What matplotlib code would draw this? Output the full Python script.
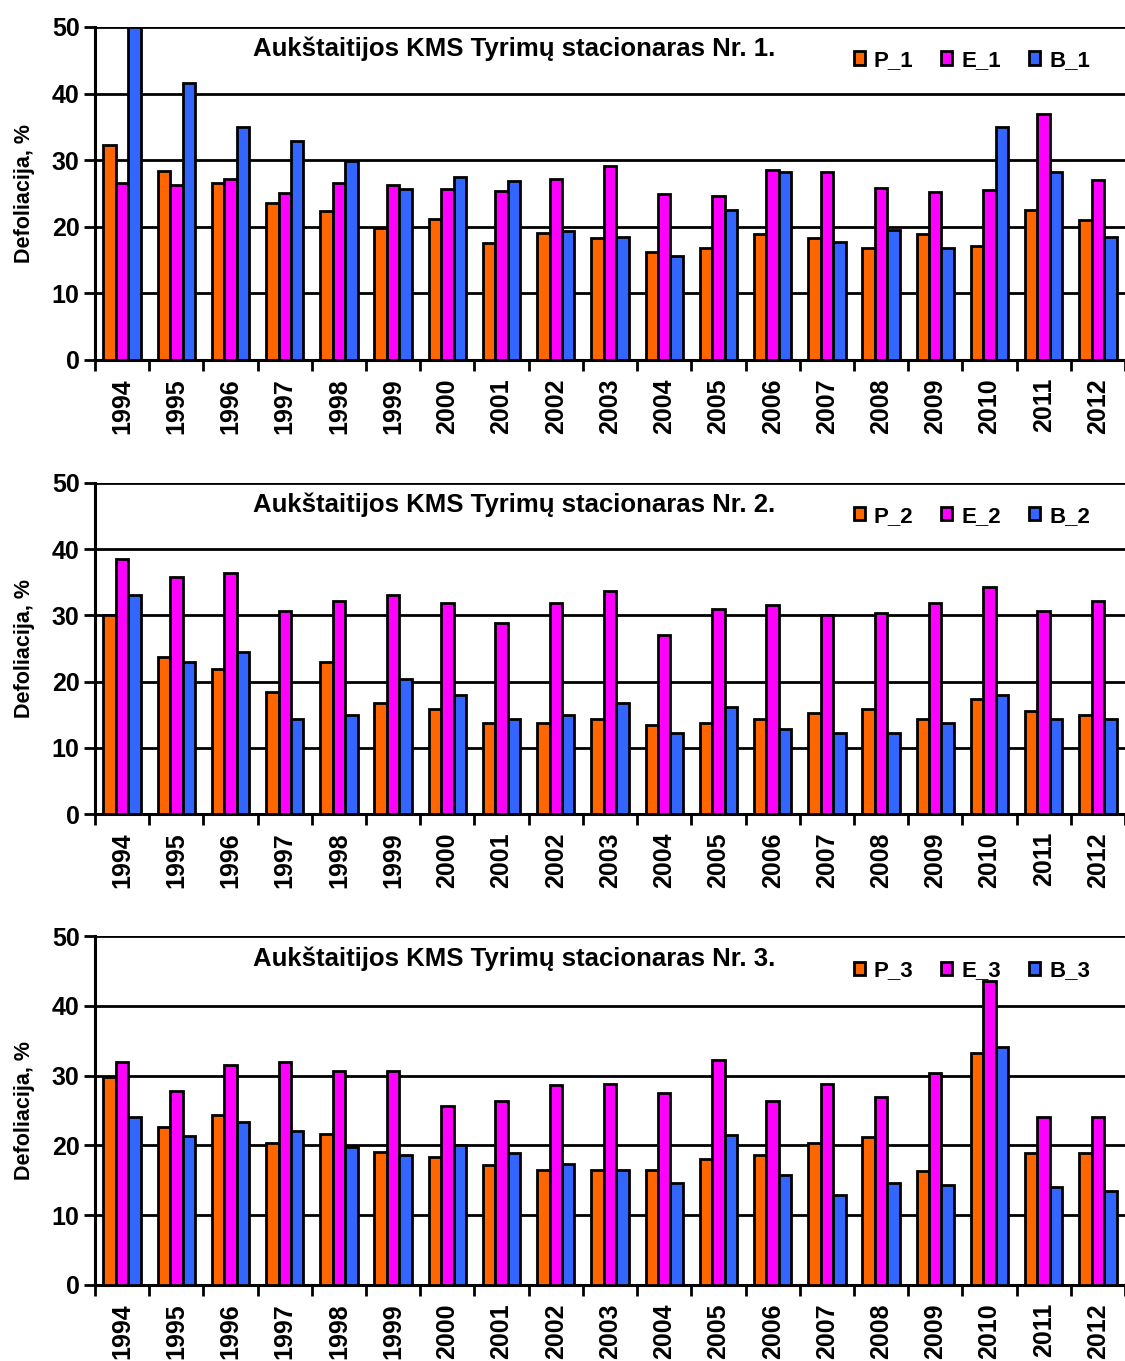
import matplotlib.pyplot as plt
import numpy as np
from matplotlib.patches import Patch

years = [str(y) for y in range(1994, 2013)]

# stationary 1
p_1 = [32.3, 28.4, 26.6, 23.6, 22.4, 19.8, 21.2, 17.6, 19.1, 18.3, 16.2, 16.8, 18.9, 18.3, 16.8, 18.9, 17.1, 22.5, 21.0]
e_1 = [26.6, 26.3, 27.2, 25.1, 26.6, 26.3, 25.7, 25.4, 27.2, 29.1, 24.9, 24.6, 28.5, 28.2, 25.8, 25.2, 25.5, 36.9, 27.0]
b_1 = [50.0, 41.6, 35.0, 32.9, 29.9, 25.7, 27.5, 26.9, 19.4, 18.5, 15.6, 22.5, 28.2, 17.7, 19.5, 16.8, 35.0, 28.2, 18.5]

# stationary 2
p_2 = [30.0, 23.7, 21.9, 18.4, 22.9, 16.8, 15.9, 13.8, 13.8, 14.4, 13.5, 13.8, 14.4, 15.3, 15.9, 14.4, 17.4, 15.6, 15.0]
e_2 = [38.5, 35.8, 36.4, 30.7, 32.2, 33.1, 31.9, 28.9, 31.9, 33.7, 27.1, 31.0, 31.6, 30.1, 30.4, 31.9, 34.3, 30.7, 32.2]
b_2 = [33.1, 22.9, 24.4, 14.4, 15.0, 20.4, 18.0, 14.4, 15.0, 16.8, 12.3, 16.2, 12.9, 12.3, 12.3, 13.8, 18.0, 14.4, 14.4]

# stationary 3
p_3 = [29.8, 22.6, 24.3, 20.3, 21.6, 19.1, 18.3, 17.2, 16.5, 16.5, 16.5, 18.0, 18.6, 20.3, 21.2, 16.3, 33.2, 18.9, 18.9]
e_3 = [32.0, 27.8, 31.5, 32.0, 30.6, 30.6, 25.7, 26.3, 28.6, 28.8, 27.5, 32.3, 26.4, 28.8, 26.9, 30.4, 43.5, 24.0, 24.0]
b_3 = [24.0, 21.4, 23.4, 22.0, 19.7, 18.6, 20.1, 18.9, 17.4, 16.5, 14.6, 21.5, 15.8, 12.9, 14.6, 14.3, 34.1, 14.0, 13.4]

panels = [(1, p_1, e_1, b_1), (2, p_2, e_2, b_2), (3, p_3, e_3, b_3)]
colors = ['#FF6600', '#FF00FF', '#3366FF']

plt.rcParams['font.family'] = ['Liberation Sans', 'DejaVu Sans']
plt.rcParams['font.weight'] = 'bold'

W, H = 1125, 1361
fig = plt.figure(figsize=(W / 100, H / 100), dpi=100)

# axes boxes in pixels: (top, bottom)
boxes = [(27, 360), (483, 814), (936, 1285)]
left_px, right_px = 95, 1125

x = np.arange(len(years))
bw = 0.23

for (num, p, e, b), (top, bot) in zip(panels, boxes):
    ax = fig.add_axes([left_px / W, 1 - bot / H, (right_px - left_px) / W, (bot - top) / H])
    ax.set_axisbelow(True)
    for k, (vals, col) in enumerate(zip([p, e, b], colors)):
        ax.bar(x + (k - 1) * bw, vals, bw, color=col, edgecolor='black', linewidth=2, zorder=3)
    ax.set_xlim(-0.5, len(years) - 0.5)
    ax.set_ylim(0, 50)
    ax.set_yticks(range(0, 51, 10))
    ax.yaxis.grid(True, color='black', linewidth=2)
    ax.set_xticks(x)
    ax.set_xticklabels(years, rotation=90, fontsize=18, fontweight='bold')
    ax.set_xticks(np.arange(-0.5, len(years), 1), minor=True)
    ax.tick_params(axis='x', which='major', length=0, pad=13)
    ax.tick_params(axis='x', which='minor', length=8, width=2, direction='out')
    ax.tick_params(axis='y', length=8, width=2, labelsize=18, pad=3)
    for t in ax.get_yticklabels():
        t.set_fontweight('bold')
    for s in ['top', 'right']:
        ax.spines[s].set_visible(False)
    for s in ['left', 'bottom']:
        ax.spines[s].set_linewidth(2.2)
    ax.set_ylabel('Defoliacija, %', fontsize=15.5, fontweight='bold', labelpad=12)
    ax.text(0.407, 0.935, f'Aukštaitijos KMS Tyrimų stacionaras Nr. {num}.',
            transform=ax.transAxes, ha='center', va='center', fontsize=18.5, fontweight='bold')
    handles = [Patch(facecolor=c, edgecolor='black', linewidth=2) for c in colors]
    ax.legend(handles, [f'P_{num}', f'E_{num}', f'B_{num}'], ncol=3, frameon=False,
              loc='center left', bbox_to_anchor=(0.717, 0.9),
              handlelength=0.5, handleheight=0.55, handletextpad=0.4, columnspacing=1.27,
              prop={'weight': 'bold', 'size': 16})

fig.savefig('out.png', dpi=100)
